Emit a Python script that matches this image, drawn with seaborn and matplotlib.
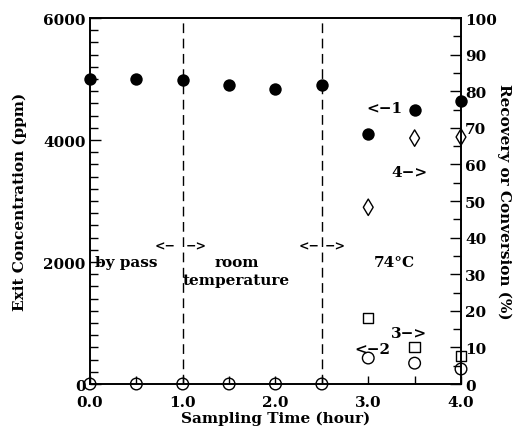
import matplotlib
matplotlib.use("Agg")
import matplotlib.pyplot as plt
import seaborn as sns
import pandas as pd
from matplotlib.ticker import MultipleLocator

# ---- data ----
time_all = [0.0, 0.5, 1.0, 1.5, 2.0, 2.5, 3.0, 3.5, 4.0]
exit_conc = [5000, 5000, 4980, 4900, 4840, 4900, 4100, 4490, 4640]   # series 1 (ppm)
time_zero = [0.0, 0.5, 1.0, 1.5, 2.0, 2.5]
zero_vals = [0, 0, 0, 0, 0, 0]
time_hot = [3.0, 3.5, 4.0]
series2 = [7.1, 5.7, 4.1]      # open circles (%)
series3 = [18.0, 10.1, 7.6]    # squares (%)
series4 = [48.3, 67.2, 67.5]   # diamonds (%)

x_ticks = [0.0, 1.0, 2.0, 3.0, 4.0]
left_ticks = [0, 2000, 4000, 6000]
right_ticks = list(range(0, 101, 10))
phase_bounds = [1.0, 2.5]

sns.set_theme(style="ticks")
plt.rcParams['font.family'] = ['DejaVu Serif']
plt.rcParams['font.weight'] = 'bold'
for k in ['text.color', 'axes.labelcolor', 'xtick.color', 'ytick.color', 'axes.edgecolor']:
    plt.rcParams[k] = 'black'

fig = plt.figure(figsize=(5.25, 4.31), dpi=100)
ax = fig.add_axes([0.1714, 0.1067, 0.7067, 0.849])
ax2 = ax.twinx()

d1 = pd.DataFrame({"t": time_all, "c": exit_conc})
sns.scatterplot(data=d1, x="t", y="c", ax=ax, color="black", s=80, marker="o",
                edgecolor="black", linewidth=0, zorder=5, clip_on=False)

d0 = pd.DataFrame({"t": time_zero, "v": zero_vals})
sns.scatterplot(data=d0, x="t", y="v", ax=ax2, facecolor="none", edgecolor="black",
                s=70, marker="o", linewidth=1.0, zorder=5, clip_on=False)
d2 = pd.DataFrame({"t": time_hot, "v": series2})
sns.scatterplot(data=d2, x="t", y="v", ax=ax2, facecolor="none", edgecolor="black",
                s=70, marker="o", linewidth=1.0, zorder=5, clip_on=False)
d3 = pd.DataFrame({"t": time_hot, "v": series3})
sns.scatterplot(data=d3, x="t", y="v", ax=ax2, facecolor="none", edgecolor="black",
                s=55, marker="s", linewidth=1.0, zorder=5, clip_on=False)
d4 = pd.DataFrame({"t": time_hot, "v": series4})
sns.scatterplot(data=d4, x="t", y="v", ax=ax2, facecolor="none", edgecolor="black",
                s=70, marker="d", linewidth=1.0, zorder=5, clip_on=False)

for xb in phase_bounds:
    ax.axvline(xb, color="black", linestyle=(0, (7, 4)), linewidth=1.0, zorder=1)

ax.set_xlim(0, 4)
ax.set_ylim(0, 6000)
ax2.set_ylim(0, 100)
ax.set_xticks(x_ticks)
ax.set_xticklabels([f"{v:.1f}" for v in x_ticks])
ax.xaxis.set_minor_locator(MultipleLocator(0.5))
ax.set_yticks(left_ticks)
ax.yaxis.set_minor_locator(MultipleLocator(200))
ax2.set_yticks(right_ticks)
ax2.yaxis.set_minor_locator(MultipleLocator(5))

fs = 11
ax.tick_params(axis="both", which="both", direction="in", labelsize=fs, width=1, color="black")
ax.tick_params(axis="x", which="both", length=6, pad=8, top=False)
ax.tick_params(axis="y", which="major", length=8, pad=3)
ax.tick_params(axis="y", which="minor", length=6)
ax2.tick_params(axis="y", which="both", direction="in", labelsize=fs, width=1, pad=3)
ax2.tick_params(axis="y", which="major", length=8)
ax2.tick_params(axis="y", which="minor", length=6)
for a in (ax, ax2):
    for lab in a.get_xticklabels() + a.get_yticklabels():
        lab.set_fontweight("bold")
    for sp in a.spines.values():
        sp.set_linewidth(1.2)
        sp.set_color("black")
        sp.set_visible(True)

ax.set_xlabel("Sampling Time (hour)", fontsize=fs, fontweight="bold", labelpad=1)
ax.set_ylabel("Exit Concentration (ppm)", fontsize=fs, fontweight="bold", labelpad=12)
ax2.set_ylabel("Recovery or Conversion (%)", fontsize=fs, fontweight="bold",
               rotation=-90, labelpad=10)

tfs = 11
ax.text(0.05, 2000, "by pass", fontsize=tfs, fontweight="bold", va="center", ha="left")
ax.text(1.58, 2000, "room", fontsize=tfs, fontweight="bold", va="center", ha="center")
ax.text(1.58, 1700, "temperature", fontsize=tfs, fontweight="bold", va="center", ha="center")
ax.text(3.06, 2000, "74°C", fontsize=tfs, fontweight="bold", va="center", ha="left")
ax.text(0.70, 2270, "<\u2212", fontsize=9, va="center", ha="left")
ax.text(1.03, 2270, "\u2212>", fontsize=9, va="center", ha="left")
ax.text(2.25, 2270, "<\u2212", fontsize=9, va="center", ha="left")
ax.text(2.53, 2270, "\u2212>", fontsize=9, va="center", ha="left")
ax.text(2.98, 4520, "<\u22121", fontsize=tfs, fontweight="bold", va="center", ha="left")
ax.text(3.25, 3470, "4\u2212>", fontsize=tfs, fontweight="bold", va="center", ha="left")
ax.text(3.24, 840, "3\u2212>", fontsize=tfs, fontweight="bold", va="center", ha="left")
ax.text(2.85, 570, "<\u22122", fontsize=tfs, fontweight="bold", va="center", ha="left")

fig.savefig("out.png", dpi=100)
